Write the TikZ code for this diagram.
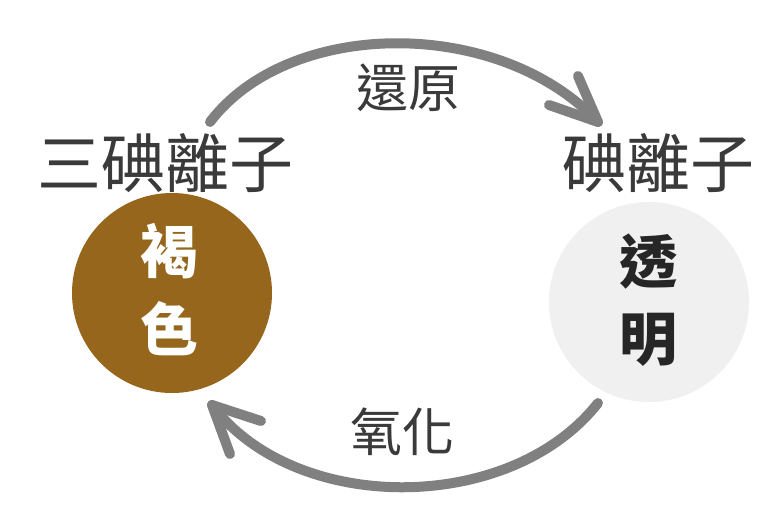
\documentclass[tikz,border=0pt]{standalone}
\usepackage{fontspec}
\newfontfamily\cjk{Noto Sans CJK TC}
\definecolor{brownc}{HTML}{95661B}
\definecolor{lightc}{HTML}{F0F0F0}
\definecolor{arrowc}{HTML}{808080}
\definecolor{labc}{HTML}{3A3A3A}
\tikzset{
  disc/.style={circle, minimum size=200pt, inner sep=0pt},
  label60/.style={font=\cjk\fontsize{64}{64}\selectfont, text=labc, inner sep=0pt},
  label50/.style={font=\cjk\fontsize{52}{52}\selectfont, text=labc, inner sep=0pt},
  inner/.style={font=\cjk\bfseries\fontsize{58}{58}\selectfont, inner sep=0pt},
  flow/.style={draw=arrowc, line width=10pt, line cap=round, line join=round}
}
\begin{document}
\begin{tikzpicture}[x=1pt,y=-1pt]
\useasboundingbox (0,0) rectangle (768,520);
\fill[white] (0,0) rectangle (768,520);
% circles
\node[disc, fill=brownc] (brown) at (172,293) {};
\node[disc, fill=lightc] (clear) at (649,302) {};
\node[inner, text=white] (b1) at (169,251) {褐};
\node[inner, text=white] (b2) at (169,329) {色};
\node[inner, text=black!85] (c1) at (648,262) {透};
\node[inner, text=black!85] (c2) at (648,340) {明};
% labels
\node[label60] (tri) at (165,163) {三碘離子};
\node[label60] (mono) at (658,163) {碘離子};
\node[label50] (red) at (408,88) {還原};
\node[label50] (ox) at (402,432) {氧化};
% arrows
\coordinate (s1) at (210,122);
\coordinate (t1) at (598,122);
\coordinate (s2) at (598,403);
\coordinate (t2) at (212,405);
\draw[flow] (s1) .. controls (290,17) and (500,17) .. (t1);
\draw[flow] (578,76) -- (t1) -- (549,105);
\draw[flow] (s2) .. controls (510,515) and (295,515) .. (t2);
\draw[flow] (261,421) -- (t2) -- (230,454);
\end{tikzpicture}
\end{document}
